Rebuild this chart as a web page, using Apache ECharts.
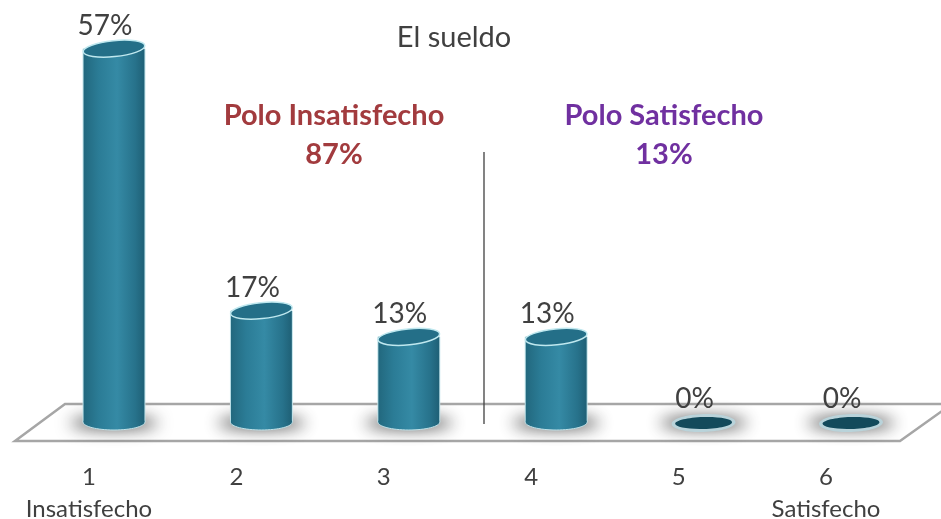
<!DOCTYPE html>
<html>
<head>
<meta charset="utf-8">
<style>
  html, body { margin: 0; padding: 0; background: #fff; }
  #chart { width: 941px; height: 519px; }
</style>
<script src="https://cdn.jsdelivr.net/npm/echarts@6/dist/echarts.min.js"></script>
</head>
<body>
<div id="chart"></div>
<script>
let categories = ['1', '2', '3', '4', '5', '6'];
let endLabels = ['Insatisfecho', '', '', '', '', 'Satisfecho'];
let values = [57, 17, 13, 13, 0, 0];
let chartTitle = 'El sueldo';
let poleLeft = ['Polo Insatisfecho', '87%'];
let poleRight = ['Polo Satisfecho', '13%'];

let font = 'Lato';
let chart = echarts.init(document.getElementById('chart'));

function drawCylinder(params, api) {
  let val = api.value(1);
  let base = api.coord([api.value(0), 0]);
  let top = api.coord([api.value(0), val]);
  let w = api.size([1, 0])[0] * 0.42;
  let cx = base[0], r = w / 2;
  let kids = [];

  // only the blurred shadow of this ellipse lands on the floor
  kids.push({
    type: 'ellipse',
    shape: { cx: cx - 2000, cy: base[1] + 1, rx: r + 13, ry: 6 },
    style: { fill: '#000', shadowBlur: 16, shadowOffsetX: 2000, shadowColor: 'rgba(60,60,60,0.95)' }
  });

  if (val > 0) {
    let body = new echarts.graphic.LinearGradient(0, 0, 1, 0, [
      { offset: 0, color: '#22687e' },
      { offset: 0.25, color: '#2b7c96' },
      { offset: 0.55, color: '#358aa5' },
      { offset: 0.85, color: '#27728b' },
      { offset: 1, color: '#1f6076' }
    ]);
    kids.push({
      type: 'rect',
      shape: { x: cx - r - 0.5, y: top[1], width: w + 1, height: base[1] - top[1] },
      style: { fill: '#bfe2e9' }
    });
    kids.push({
      type: 'ellipse',
      shape: { cx: cx, cy: base[1], rx: r, ry: 8 },
      style: { fill: body, stroke: '#bfe2e9', lineWidth: 1 }
    });
    kids.push({
      type: 'rect',
      shape: { x: cx - r + 0.5, y: top[1], width: w - 1, height: base[1] - top[1] },
      style: { fill: body }
    });
    kids.push({
      type: 'ellipse',
      shape: { cx: cx, cy: top[1], rx: r, ry: 8 },
      rotation: 0.1,
      originX: cx,
      originY: top[1],
      style: { fill: '#246f88', stroke: '#bfe8ef', lineWidth: 1.5 }
    });
  } else {
    kids.push({
      type: 'ellipse',
      shape: { cx: cx, cy: top[1] + 1, rx: r + 1, ry: 9 },
      rotation: 0.03,
      originX: cx,
      originY: top[1] + 1,
      style: { fill: '#b9d3da' }
    });
    kids.push({
      type: 'ellipse',
      shape: { cx: cx, cy: top[1] + 1, rx: r - 2.5, ry: 6 },
      rotation: 0.03,
      originX: cx,
      originY: top[1] + 1,
      style: { fill: '#134a5b' }
    });
  }

  kids.push({
    type: 'text',
    style: {
      text: val + '%',
      x: cx - 9,
      y: top[1] - 23,
      align: 'center',
      verticalAlign: 'middle',
      font: '28px ' + font,
      fill: '#404040'
    }
  });
  return { type: 'group', children: kids };
}

function poleText(x, lines, color) {
  return [
    { type: 'text', x: x, y: 116, style: { text: lines[0], align: 'center', verticalAlign: 'middle', font: 'bold 29px ' + font, fill: color } },
    { type: 'text', x: x, y: 155, style: { text: lines[1], align: 'center', verticalAlign: 'middle', font: 'bold 29px ' + font, fill: color } }
  ];
}

chart.setOption({
  animation: false,
  backgroundColor: '#fff',
  grid: { left: 40.3, width: 884.4, top: 29, height: 393, outerBoundsMode: 'none' },
  xAxis: {
    type: 'category',
    data: categories,
    axisLine: { show: false },
    axisTick: { show: false },
    axisLabel: {
      margin: 39,
      padding: [0, 50, 0, 0],
      color: '#404040',
      fontFamily: font,
      fontSize: 24,
      lineHeight: 32,
      interval: 0,
      formatter: function (c, i) { return endLabels[i] ? c + '\n' + endLabels[i] : c; }
    }
  },
  yAxis: { type: 'value', min: 0, max: 60, show: false },
  graphic: [
    {
      type: 'polygon',
      shape: { points: [[15, 441], [900, 441], [952, 404], [65, 404]] },
      style: { fill: '#fff', stroke: '#a6a6a6', lineWidth: 2.5 }
    },
    {
      type: 'line',
      shape: { x1: 484, y1: 152, x2: 484, y2: 424 },
      style: { stroke: '#404040', lineWidth: 1.3 }
    },
    { type: 'text', x: 454, y: 38, style: { text: chartTitle, align: 'center', verticalAlign: 'middle', font: '29px ' + font, fill: '#404040' } }
  ].concat(poleText(334, poleLeft, '#a23b3e'), poleText(664, poleRight, '#7030a0')),
  series: [{
    type: 'custom',
    renderItem: drawCylinder,
    clip: false,
    data: values.map(function (v, i) { return [i, v]; }),
    encode: { x: 0, y: 1 }
  }]
});
</script>
</body>
</html>
